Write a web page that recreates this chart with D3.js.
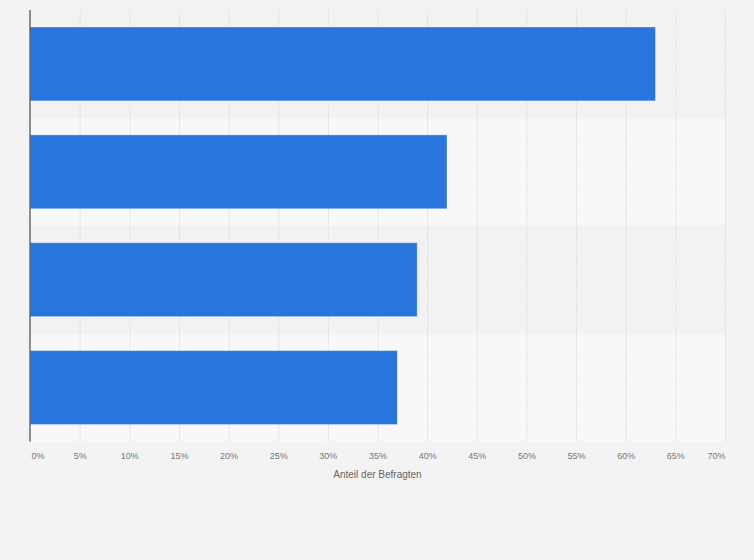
<!DOCTYPE html>
<html><head><meta charset="utf-8">
<script src="https://cdn.jsdelivr.net/npm/d3@7"></script>
<style>
html,body{margin:0;padding:0;background:#f3f3f3;}
svg{display:block;font-family:"Liberation Sans",Arial,sans-serif;}
</style></head>
<body><svg id="c" width="754" height="560"></svg>
<script>
const categories = ["A", "B", "C", "D"];
const values = [63, 42, 39, 37];
const tickValues = [0,5,10,15,20,25,30,35,40,45,50,55,60,65,70];
const axisTitle = "Anteil der Befragten";

const svg = d3.select("#c");
const m = {left: 30, right: 29, top: 10, bottom: 118.5};
const W = 754, H = 560;
const x = d3.scaleLinear().domain([0, 70]).range([m.left, W - m.right]);
const y = d3.scaleBand().domain(categories).range([m.top, H - m.bottom]).paddingInner(0).paddingOuter(0);
const inner = 0.315;

// bands
svg.append("g").selectAll("rect").data(categories).join("rect")
  .attr("x", m.left).attr("width", x(70) - m.left)
  .attr("y", d => y(d)).attr("height", y.bandwidth())
  .attr("fill", (d, i) => i % 2 === 0 ? "#f2f2f2" : "#f8f8f8");

// gridlines
svg.append("g").selectAll("line").data(tickValues.filter(t => t > 0)).join("line")
  .attr("x1", d => x(d) + 0.5).attr("x2", d => x(d) + 0.5)
  .attr("y1", m.top).attr("y2", H - m.bottom)
  .attr("stroke", "#dedede").attr("stroke-width", 1).attr("stroke-dasharray", "2,1");

// bars
const bh = y.bandwidth() * (1 - inner);
svg.append("g").selectAll("rect").data(values).join("rect")
  .attr("x", x(0)).attr("width", d => x(d) - x(0))
  .attr("y", (d, i) => y(categories[i]) + (y.bandwidth() - bh) / 2)
  .attr("height", bh)
  .attr("fill", "#2876dd")
  .attr("stroke", "rgba(255,255,255,0.35)").attr("stroke-width", 1);

// axis line
svg.append("line").attr("x1", x(0)).attr("x2", x(0))
  .attr("y1", m.top).attr("y2", H - m.bottom)
  .attr("stroke", "#555").attr("stroke-width", 1.3);

// x axis labels
const ax = d3.axisBottom(x).tickValues(tickValues).tickFormat(d => d + "%").tickSize(0).tickPadding(0);
const g = svg.append("g").attr("transform", `translate(0,459)`).call(ax);
g.select(".domain").remove();
g.selectAll("text").attr("font-size", "9px").attr("fill", "#777").attr("dy", "0")
  .attr("font-family", "'Liberation Sans',Arial,sans-serif")
  .attr("text-anchor", (d, i) => i === 0 ? "start" : (i === tickValues.length - 1 ? "end" : "middle"))
  .attr("dx", (d, i) => i === 0 ? "1" : "0");

svg.append("text").attr("x", (x(0) + x(70)) / 2).attr("y", 478)
  .attr("text-anchor", "middle").attr("font-size", "10px").attr("fill", "#666")
  .text(axisTitle);
</script></body></html>
